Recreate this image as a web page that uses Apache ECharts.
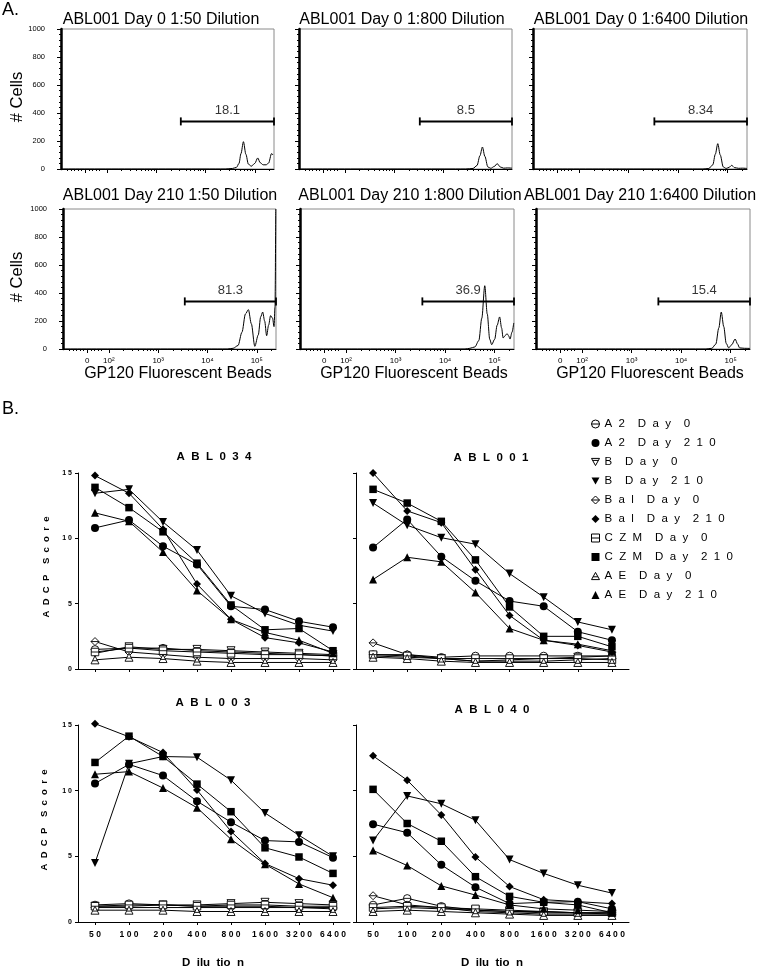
<!DOCTYPE html>
<html><head><meta charset="utf-8">
<script src="https://cdn.jsdelivr.net/npm/echarts@6/dist/echarts.min.js"></script>
<style>html,body{margin:0;padding:0;background:#fff}#c{width:760px;height:968px}</style>
</head><body><div id="c"></div>
<script>
// ---------------- Part A data (x in log10 decade units, y = # cells) ----------------
const histTitles = ['ABL001 Day 0 1:50 Dilution','ABL001 Day 0 1:800 Dilution','ABL001 Day 0 1:6400 Dilution',
  'ABL001 Day 210 1:50 Dilution','ABL001 Day 210 1:800 Dilution','ABL001 Day 210 1:6400 Dilution'];
const hX_d0_50   = [1.07,4.40,4.55,4.63,4.68,4.72,4.77,4.82,4.87,4.93,5.00,5.06,5.11,5.17,5.23,5.28,5.34,5.37];
const hY_d0_50   = [0,   0,   4,   12,  40,  110, 195, 105, 35,  20,  40,  79,  45,  30,  30,  42,  110, 100];
const hX_d0_800  = [1.07,4.45,4.60,4.68,4.74,4.79,4.84,4.90,4.96,5.03,5.09,5.15,5.22,5.30,5.39];
const hY_d0_800  = [0,   0,   4,   25,  95,  157, 90,  15,  5,   18,  38,  15,  6,   8,   6];
const hX_d0_6400 = [1.07,4.50,4.62,4.70,4.75,4.80,4.85,4.91,4.97,5.03,5.08,5.14,5.22,5.30,5.39];
const hY_d0_6400 = [0,   0,   4,   30,  105, 181, 100, 15,  4,   12,  26,  10,  5,   6,   4];
const hX_d210_50 = [1.07,4.40,4.52,4.62,4.70,4.77,4.83,4.89,4.96,5.03,5.08,5.12,5.16,5.20,5.24,5.28,5.32,5.35,5.37,5.385];
const hY_d210_50 = [0,   0,   5,   25,  120, 250, 281, 180, 19,  100, 230, 264, 200, 95,  170, 238, 220, 160, 300, 1000];
const hX_d210_800= [1.07,4.40,4.50,4.60,4.68,4.74,4.80,4.85,4.90,4.94,5.00,5.05,5.10,5.14,5.17,5.21,5.25,5.28,5.31,5.35,5.385];
const hY_d210_800= [0,   0,   5,   15,  60,  220, 452, 250, 70,  31,  70,  170, 229, 150, 79,  95,  110, 95,  71,  120, 186];
const hX_d210_6400=[1.07,4.50,4.62,4.70,4.76,4.81,4.86,4.91,4.96,5.02,5.09,5.14,5.18,5.28,5.39];
const hY_d210_6400=[0,   0,   5,   35,  150, 264, 160, 40,  8,   30,  71,  35,  8,   5,   4];
const gateStart = [3.50, 3.52, 3.52, 3.54, 3.54, 3.54];
const gateEnd = 5.39;
const gateLevel = 340;
const gatePct = ['18.1', '8.5', '8.34', '81.3', '36.9', '15.4'];
const xTickPos  = [1.56, 2, 3, 4, 5];
const xTickText = ['0', '10²', '10³', '10⁴', '10⁵'];

// ---------------- Part B data ----------------
const dilutions = ['50','100','200','400','800','1600','3200','6400'];
const seriesNames = ['A2 Day 0','A2 Day 210','B Day 0','B Day 210','Bal Day 0','Bal Day 210','CZM Day 0','CZM Day 210','AE Day 0','AE Day 210'];
const abl034 = [
  [1.5, 1.6, 1.6, 1.4, 1.3, 1.2, 1.1, 1.0],
  [10.8, 11.4, 9.4, 8.0, 4.8, 4.55, 3.65, 3.2],
  [1.2, 1.7, 1.5, 1.5, 1.4, 1.3, 1.2, 1.1],
  [13.45, 13.75, 11.25, 9.1, 5.6, 4.25, 3.35, 2.9],
  [2.1, 1.3, 1.1, 0.9, 0.8, 0.8, 0.8, 0.7],
  [14.8, 13.45, 10.7, 6.5, 3.8, 2.4, 2.0, 1.3],
  [1.3, 1.6, 1.4, 1.3, 1.2, 1.1, 1.1, 1.0],
  [13.9, 12.35, 10.5, 8.1, 4.9, 3.0, 3.1, 1.4],
  [0.7, 0.9, 0.8, 0.6, 0.5, 0.5, 0.5, 0.5],
  [11.95, 11.3, 8.95, 6.0, 3.8, 2.8, 2.2, 1.2]
];
const abl001 = [
  [1.1, 1.1, 0.9, 1.0, 1.0, 1.0, 1.0, 1.0],
  [9.3, 11.45, 8.6, 6.75, 5.2, 4.8, 2.85, 2.2],
  [1.0, 0.9, 0.8, 0.6, 0.7, 0.8, 0.9, 1.0],
  [12.7, 11.0, 10.05, 9.55, 7.3, 5.5, 3.6, 3.0],
  [2.0, 1.1, 0.8, 0.6, 0.6, 0.6, 0.7, 0.8],
  [15.0, 12.1, 11.2, 7.6, 4.1, 2.2, 1.8, 1.3],
  [1.1, 1.0, 0.8, 0.8, 0.8, 0.8, 0.8, 0.7],
  [13.75, 12.7, 11.3, 8.35, 4.75, 2.5, 2.5, 1.7],
  [0.9, 0.8, 0.6, 0.5, 0.5, 0.5, 0.5, 0.5],
  [6.85, 8.55, 8.2, 5.85, 3.1, 2.2, 1.9, 1.4]
];
const abl003 = [
  [1.3, 1.4, 1.3, 1.2, 1.2, 1.2, 1.1, 1.1],
  [10.55, 12.0, 11.15, 9.2, 7.6, 6.2, 6.1, 4.9],
  [1.2, 1.2, 1.3, 1.3, 1.4, 1.5, 1.4, 1.3],
  [4.5, 12.05, 12.6, 12.55, 10.8, 8.3, 6.6, 5.0],
  [1.1, 1.1, 1.1, 1.1, 1.1, 1.1, 1.1, 1.0],
  [15.1, 14.1, 12.9, 10.05, 6.9, 4.45, 3.3, 2.8],
  [1.2, 1.3, 1.3, 1.2, 1.3, 1.3, 1.2, 1.2],
  [12.15, 14.15, 12.6, 10.5, 8.4, 5.65, 4.95, 3.7],
  [0.9, 0.9, 0.9, 0.8, 0.8, 0.8, 0.8, 0.8],
  [11.25, 11.45, 10.2, 8.7, 6.3, 4.4, 2.9, 1.85]
];
const abl040 = [
  [1.3, 1.8, 1.2, 0.9, 0.8, 0.8, 0.7, 0.7],
  [7.45, 6.8, 4.35, 2.65, 1.4, 1.5, 1.55, 1.0],
  [1.0, 1.1, 1.0, 0.9, 0.8, 0.7, 0.7, 0.6],
  [6.2, 9.6, 9.0, 7.75, 4.75, 3.7, 2.8, 2.2],
  [2.0, 1.3, 1.1, 0.8, 0.7, 0.6, 0.6, 0.6],
  [12.65, 10.8, 8.15, 4.95, 2.7, 1.7, 1.55, 1.4],
  [1.1, 1.2, 1.1, 1.0, 0.9, 0.8, 0.7, 0.7],
  [10.1, 7.5, 6.15, 3.45, 1.95, 1.5, 1.3, 0.7],
  [0.8, 0.9, 0.8, 0.7, 0.6, 0.5, 0.5, 0.5],
  [5.45, 4.3, 2.75, 2.05, 1.3, 1.0, 0.9, 0.8]
];
const panelTitles = ['ABL034', 'ABL001', 'ABL003', 'ABL040'];

// ---------------- build ----------------
const FONT = 'Liberation Sans, Arial, Helvetica, sans-serif';
const histX = [hX_d0_50, hX_d0_800, hX_d0_6400, hX_d210_50, hX_d210_800, hX_d210_6400];
const histY = [hY_d0_50, hY_d0_800, hY_d0_6400, hY_d210_50, hY_d210_800, hY_d210_6400];
const histGrids = [
  {left: 61, top: 29, width: 213}, {left: 299, top: 29, width: 213}, {left: 533, top: 29, width: 214},
  {left: 63, top: 209, width: 213}, {left: 300, top: 209, width: 214}, {left: 536, top: 209, width: 214}
];
const titlePos = [[161, 20], [402, 20], [641, 20], [170, 196], [410, 196], [640, 196]];
const beadsPos = [178, 414, 650];
const X_MIN = 1.07, X_MAX = 5.39;
const minorTicks = [1.2, 1.27, 1.34, 1.41, 1.48, 1.64, 1.71, 1.78, 1.85];
[2, 3, 4].forEach(n => { for (let k = 2; k <= 9; k++) minorTicks.push(n + Math.log10(k)); });
minorTicks.push(5 + Math.log10(2));

const grids = [], xAxes = [], yAxes = [], series = [], graphics = [];

histGrids.forEach((g, i) => {
  const row = Math.floor(i / 3), col = i % 3;
  grids.push({left: g.left, top: g.top, width: g.width, height: 140, show: true,
    borderColor: '#8a8a8a', borderWidth: 1, containLabel: false});
  xAxes.push({type: 'value', gridIndex: i, min: X_MIN, max: X_MAX, position: 'bottom',
    axisLine: {show: true, onZero: false, lineStyle: {color: '#000', width: 1}},
    axisTick: {show: true, length: 4, customValues: xTickPos, lineStyle: {color: '#000'}},
    axisLabel: {show: row === 1, customValues: xTickPos, margin: 8, fontSize: 8, fontFamily: FONT, color: '#000',
      formatter: v => { const k = xTickPos.indexOf(v); return k >= 0 ? xTickText[k] : ''; }},
    splitLine: {show: false}});
  xAxes.push({type: 'value', gridIndex: i, min: X_MIN, max: X_MAX, position: 'bottom',
    axisLine: {show: false},
    axisTick: {show: true, length: 2, customValues: minorTicks, lineStyle: {color: '#000'}},
    axisLabel: {show: false}, splitLine: {show: false}});
  yAxes.push({type: 'value', gridIndex: i, min: 0, max: 1000, interval: 200,
    axisLine: {show: true, lineStyle: {color: '#000', width: 2.5}},
    axisTick: {show: true, length: 4, lineStyle: {color: '#000'}},
    minorTick: {show: true, splitNumber: 5, length: 2, lineStyle: {color: '#000'}},
    axisLabel: {show: col === 0, fontSize: 7.5, fontFamily: FONT, color: '#000', margin: 16,
      formatter: v => String(v)},
    splitLine: {show: false}});
  series.push({type: 'line', xAxisIndex: 2 * i, yAxisIndex: i,
    data: histX[i].map((x, k) => [x, histY[i][k]]),
    symbol: 'none', smooth: 0.3, smoothMonotone: 'x',
    lineStyle: {color: '#000', width: 1}, silent: true, z: 3});
  series.push({type: 'line', xAxisIndex: 2 * i, yAxisIndex: i,
    data: [[gateStart[i], gateLevel], [gateEnd, gateLevel]],
    symbol: 'rect', symbolSize: [1.8, 8], itemStyle: {color: '#000'},
    lineStyle: {color: '#000', width: 2}, silent: true, z: 4, clip: false});
  series.push({type: 'scatter', xAxisIndex: 2 * i, yAxisIndex: i,
    data: [[(gateStart[i] + gateEnd) / 2, gateLevel]], symbolSize: 0.01, silent: true,
    label: {show: true, position: 'top', distance: 4, formatter: gatePct[i], fontSize: 13,
      fontFamily: FONT, color: '#000'}});
  graphics.push({type: 'text', x: titlePos[i][0], y: titlePos[i][1],
    style: {text: histTitles[i], font: '16px ' + FONT, fill: '#000', align: 'center', verticalAlign: 'middle'}});
});
graphics.push({type: 'text', x: 2, y: 10, style: {text: 'A.', font: '18px ' + FONT, fill: '#000', verticalAlign: 'middle'}});
graphics.push({type: 'text', x: 17, y: 97, rotation: Math.PI / 2,
  style: {text: '# Cells', font: '16.5px ' + FONT, fill: '#000', align: 'center', verticalAlign: 'middle'}});
graphics.push({type: 'text', x: 17, y: 277, rotation: Math.PI / 2,
  style: {text: '# Cells', font: '16.5px ' + FONT, fill: '#000', align: 'center', verticalAlign: 'middle'}});
beadsPos.forEach(x => graphics.push({type: 'text', x: x, y: 374,
  style: {text: 'GP120 Fluorescent Beads', font: '16px ' + FONT, fill: '#000', align: 'center', verticalAlign: 'middle'}}));
graphics.push({type: 'text', x: 2, y: 409, style: {text: 'B.', font: '18px ' + FONT, fill: '#000', verticalAlign: 'middle'}});

// Part B
const spaced = s => s.split(' ').map(w => w.split('').join('  ')).join('    ');
const spaced1 = s => String(s).split('').join(' ');
const symbols = [
  'path://M0,10A10,10,0,1,1,20,10A10,10,0,1,1,0,10ZM0,10L20,10',
  'circle',
  'path://M0,0L20,0L10,18ZM3,5L17,5',
  'path://M0,0L20,0L10,18Z',
  'path://M10,0L20,10L10,20L0,10ZM0,10L20,10',
  'diamond',
  'path://M0,0L20,0L20,20L0,20ZM0,10L20,10',
  'rect',
  'path://M10,0L20,18L0,18ZM4,11L16,11',
  'triangle'
];
const symSize = [7.5, 8, 8, 8, 8, 8, 7.5, 7.5, 8, 8];
const bGrids = [
  {left: 78, top: 473, width: 272, height: 196},
  {left: 356, top: 473, width: 273, height: 196},
  {left: 78, top: 725, width: 272, height: 197},
  {left: 356, top: 725, width: 273, height: 197}
];
const bData = [abl034, abl001, abl003, abl040];
const bTitlePos = [[214, 457], [491, 458], [213, 703], [492, 710]];
bGrids.forEach((g, p) => {
  const gi = 6 + p, xi = 12 + p, yi = 6 + p;
  const bottom = p >= 2, left = p % 2 === 0;
  grids.push({left: g.left, top: g.top, width: g.width, height: g.height, containLabel: false});
  xAxes.push({type: 'category', gridIndex: gi, data: dilutions, boundaryGap: true,
    axisLine: {show: true, lineStyle: {color: '#000', width: 1}},
    axisTick: {show: true, alignWithLabel: true, length: 3, lineStyle: {color: '#000'}},
    axisLabel: {show: bottom, interval: 0, margin: 8, fontSize: 8.5, fontWeight: 'bold', fontFamily: FONT,
      color: '#000', formatter: spaced1},
    splitLine: {show: false}});
  yAxes.push({type: 'value', gridIndex: gi, min: 0, max: 15, interval: 5,
    axisLine: {show: true, lineStyle: {color: '#000', width: 1}},
    axisTick: {show: true, length: 3, lineStyle: {color: '#000'}},
    axisLabel: {show: left, margin: 6, fontSize: 7, fontWeight: 'bold', fontFamily: FONT, color: '#000',
      formatter: spaced1},
    splitLine: {show: false}});
  seriesNames.forEach((name, s) => {
    const filled = s % 2 === 1;
    series.push({type: 'line', name: name, xAxisIndex: xi, yAxisIndex: yi, data: bData[p][s],
      symbol: symbols[s], symbolSize: symSize[s], showAllSymbol: true, clip: false,
      itemStyle: {color: filled ? '#000' : '#fff', borderColor: '#000', borderWidth: filled ? 0 : 0.9},
      lineStyle: {color: '#000', width: 1}, z: filled ? 4 : 3, silent: true, emphasis: {disabled: true}});
  });
  graphics.push({type: 'text', x: bTitlePos[p][0], y: bTitlePos[p][1],
    style: {text: spaced(panelTitles[p]), font: 'bold 11.5px ' + FONT, fill: '#000', align: 'center', verticalAlign: 'middle'}});
});
[[46, 567], [44, 820]].forEach(pt => graphics.push({type: 'text', x: pt[0], y: pt[1], rotation: Math.PI / 2,
  style: {text: 'A  D  C  P    S  c  o  r  e', font: 'bold 9.5px ' + FONT, fill: '#000', align: 'center', verticalAlign: 'middle'}}));
[[213, 963], [492, 963]].forEach(pt => graphics.push({type: 'text', x: pt[0], y: pt[1],
  style: {text: 'D  ilu  tio  n', font: 'bold 11.5px ' + FONT, fill: '#000', align: 'center', verticalAlign: 'middle'}}));

const option = {
  animation: false,
  backgroundColor: '#fff',
  grid: grids, xAxis: xAxes, yAxis: yAxes, series: series,
  legend: {orient: 'vertical', left: 591, top: 418, padding: 0, itemWidth: 8, itemHeight: 8, itemGap: 7,
    selectedMode: false,
    textStyle: {fontSize: 11.5, lineHeight: 12, fontFamily: FONT, color: '#000'},
    formatter: spaced,
    data: seriesNames.map((n, s) => ({name: n, icon: symbols[s],
      itemStyle: {color: s % 2 ? '#000' : '#fff', borderColor: '#000', borderWidth: s % 2 ? 0 : 1}}))},
  graphic: {elements: graphics}
};
const chart = echarts.init(document.getElementById('c'), null, {renderer: 'canvas'});
chart.setOption(option);
</script></body></html>
